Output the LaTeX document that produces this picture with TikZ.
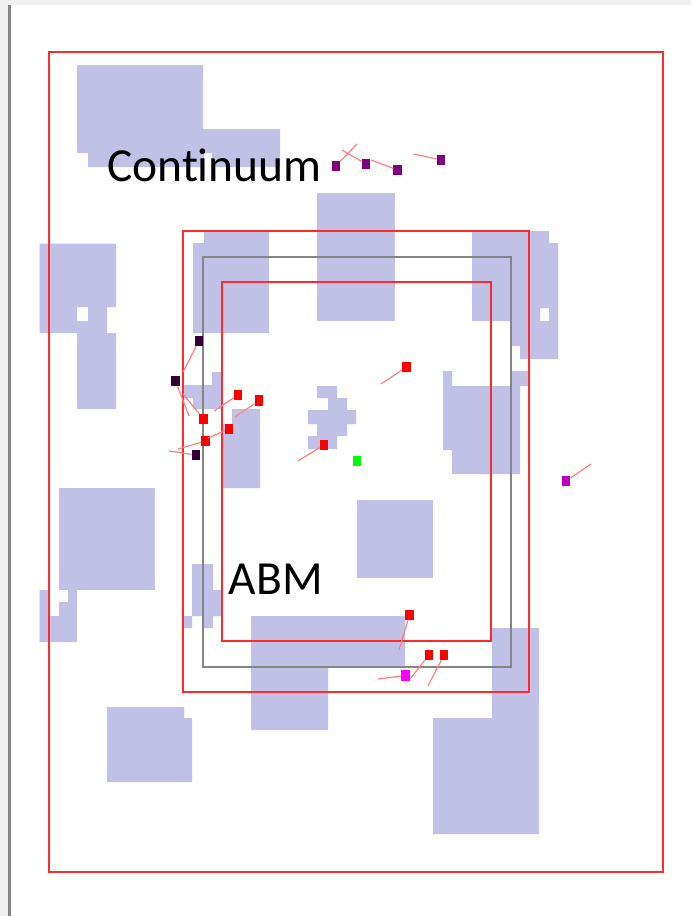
\documentclass[tikz,border=0pt]{standalone}
\usepackage{fontspec}
\setmainfont{Carlito}[Ligatures=NoCommon]
\usetikzlibrary{positioning}
\definecolor{obstaclefill}{HTML}{C1C1E7}
\definecolor{zonered}{HTML}{FF2A2A}
\definecolor{zonegray}{HTML}{858585}
\definecolor{framegray}{HTML}{F0F0F0}
\definecolor{agentpurple}{HTML}{800080}
\definecolor{agentdark}{HTML}{330033}
\definecolor{agentmauve}{HTML}{C000C0}
\definecolor{agentpink}{HTML}{FF00FF}
\definecolor{agentgreen}{HTML}{00FF00}
\tikzset{
  x=1pt,y=-1pt,
  obstacle/.style={fill=obstaclefill,draw=none},
  zone/.style={draw=zonered,line width=1.8pt,line join=miter},
  gatezone/.style={draw=zonegray,line width=2pt},
  agent/.style={draw=none,inner sep=0pt,minimum width=8.5pt,minimum height=10.5pt,fill=red},
  purpleagent/.style={agent,fill=agentpurple},
  darkagent/.style={agent,fill=agentdark},
  mauveagent/.style={agent,fill=agentmauve},
  pinkagent/.style={agent,fill=agentpink},
  greenagent/.style={agent,fill=agentgreen},
  trail/.style={draw=red!50,line width=1.2pt},
  zonelabel/.style={anchor=base west,inner sep=0pt,font=\fontsize{47.5}{50}\selectfont,text=black}
}
\begin{document}
\begin{tikzpicture}
  \useasboundingbox (0,0) rectangle (691,916);
  \fill[white] (0,0) rectangle (691,916);
  \fill[framegray] (0,0) rectangle (691,5);
  \fill[framegray] (0,0) rectangle (8,916);
  \fill[zonegray] (8,5) rectangle (11.3,916);

  \fill[obstacle] (77,65) -- (203,65) -- (203,129) -- (280,129) -- (280,167) -- (212,167) -- (212,153) -- (204,153) -- (204,167) -- (88,167) -- (88,153) -- (77,153) -- cycle;
  \fill[obstacle,even odd rule] (39.5,243.5) -- (116,243.5) -- (116,307) -- (107,307) -- (107,333) -- (116,333) -- (116,409) -- (77,409) -- (77,333) -- (39.5,333) -- cycle (77,307) rectangle (88,321);
  \fill[obstacle] (204,231) -- (269,231) -- (269,333) -- (193,333) -- (193,243) -- (204,243) -- cycle;
  \fill[obstacle] (317,193) rectangle (395,321);
  \fill[obstacle,even odd rule] (472,231) -- (549,231) -- (549,243) -- (558,243) -- (558,359) -- (520,359) -- (520,346) -- (510,346) -- (510,321) -- (472,321) -- cycle (540,308) rectangle (549,321);
  \fill[obstacle] (183,385) -- (212,385) -- (212,372) -- (222,372) -- (222,409) -- (193,409) -- (193,398) -- (183,398) -- cycle;
  \fill[obstacle] (232,409) -- (260,409) -- (260,488) -- (222.5,488) -- (222.5,424) -- (232,424) -- cycle;
  \fill[obstacle] (317,386) -- (337,386) -- (337,398) -- (347,398) -- (347,410) -- (356,410) -- (356,424) -- (347,424) -- (347,436) -- (337,436) -- (337,449) -- (308,449) -- (308,436) -- (317,436) -- (317,424) -- (308,424) -- (308,410) -- (328,410) -- (328,398) -- (317,398) -- cycle;
  \fill[obstacle] (443,371) -- (452,371) -- (452,386) -- (510,386) -- (510,371) -- (529,371) -- (529,386) -- (520,386) -- (520,474) -- (452,474) -- (452,450) -- (443,450) -- cycle;
  \fill[obstacle] (59,488) rectangle (155,590);
  \fill[obstacle] (39.5,590) -- (49,590) -- (49,616) -- (59,616) -- (59,602) -- (68,602) -- (68,590) -- (77,590) -- (77,642) -- (39.5,642) -- cycle;
  \fill[obstacle] (192,564) -- (213,564) -- (213,590) -- (222,590) -- (222,616) -- (213,616) -- (213,628) -- (202,628) -- (202,616) -- (192,616) -- (192,628) -- (183,628) -- (183,616) -- (192,616) -- cycle;
  \fill[obstacle] (357,500) rectangle (433,578);
  \fill[obstacle] (251,616) -- (405,616) -- (405,667) -- (328,667) -- (328,730) -- (251,730) -- cycle;
  \fill[obstacle] (492,628) -- (539,628) -- (539,834) -- (433,834) -- (433,718) -- (492,718) -- cycle;
  \fill[obstacle] (107,707) -- (184,707) -- (184,718) -- (192,718) -- (192,782) -- (107,782) -- cycle;

  \draw[zone] (49,52) rectangle (663,872);
  \draw[zone] (183,231) rectangle (529,692);
  \draw[gatezone] (202.5,256.5) rectangle (510.5,667);
  \draw[zone] (222,282) rectangle (491,641);

  \node[zonelabel] (continuum) at (107,181) {Continuum};
  \node[zonelabel] (abm) at (228.5,594) {ABM};

  \node[purpleagent] (p1) at (336,166) {};
  \node[purpleagent] (p2) at (366,164) {};
  \node[purpleagent] (p3) at (397.7,170) {};
  \node[purpleagent] (p4) at (441,160) {};
  \coordinate (p1tail) at (357,144);
  \coordinate (p2tail) at (342,150);
  \coordinate (p3tail) at (371,160);
  \coordinate (p4tail) at (414,154);
  \draw[trail] (p1) -- (p1tail);
  \draw[trail] (p2) -- (p2tail);
  \draw[trail] (p3) -- (p3tail);
  \draw[trail] (p4) -- (p4tail);

  \node[darkagent] (d1) at (199,341) {};
  \node[darkagent] (d2) at (175.5,381) {};
  \node[darkagent] (d3) at (196,455) {};
  \coordinate (d1tail) at (183,372);
  \coordinate (d2tail) at (189,416);
  \coordinate (d3tail) at (169,451);
  \draw[trail] (d1) -- (d1tail);
  \draw[trail] (d2) -- (d2tail);
  \draw[trail] (d3) -- (d3tail);

  \node[agent] (r1) at (203.7,419) {};
  \node[agent] (r2) at (238,395) {};
  \node[agent] (r3) at (259,400.6) {};
  \node[agent] (r4) at (229,429) {};
  \node[agent] (r5) at (205.7,441) {};
  \node[agent] (r6) at (324,445) {};
  \node[agent] (r7) at (406.5,367) {};
  \node[agent] (r8) at (409.5,615) {};
  \node[agent] (r9) at (429,655) {};
  \node[agent] (r10) at (444,655) {};
  \coordinate (r1tail) at (183,394);
  \coordinate (r2tail) at (214,411);
  \coordinate (r3tail) at (235,417);
  \coordinate (r4tail) at (208,438);
  \coordinate (r5tail) at (178,449);
  \coordinate (r6tail) at (298,461);
  \coordinate (r7tail) at (381,384);
  \coordinate (r8tail) at (399,650);
  \coordinate (r9tail) at (410,679);
  \coordinate (r10tail) at (428,686);
  \draw[trail] (r1) -- (r1tail);
  \draw[trail] (r2) -- (r2tail);
  \draw[trail] (r3) -- (r3tail);
  \draw[trail] (r4) -- (r4tail);
  \draw[trail] (r5) -- (r5tail);
  \draw[trail] (r6) -- (r6tail);
  \draw[trail] (r7) -- (r7tail);
  \draw[trail] (r8) -- (r8tail);
  \draw[trail] (r9) -- (r9tail);
  \draw[trail] (r10) -- (r10tail);

  \node[greenagent] (g1) at (357,461) {};
  \node[mauveagent] (m1) at (566,481) {};
  \node[pinkagent] (m2) at (405.5,675.5) {};
  \coordinate (m1tail) at (591,464);
  \coordinate (m2tail) at (378,679);
  \draw[trail] (m1) -- (m1tail);
  \draw[trail] (m2) -- (m2tail);
\end{tikzpicture}
\end{document}
